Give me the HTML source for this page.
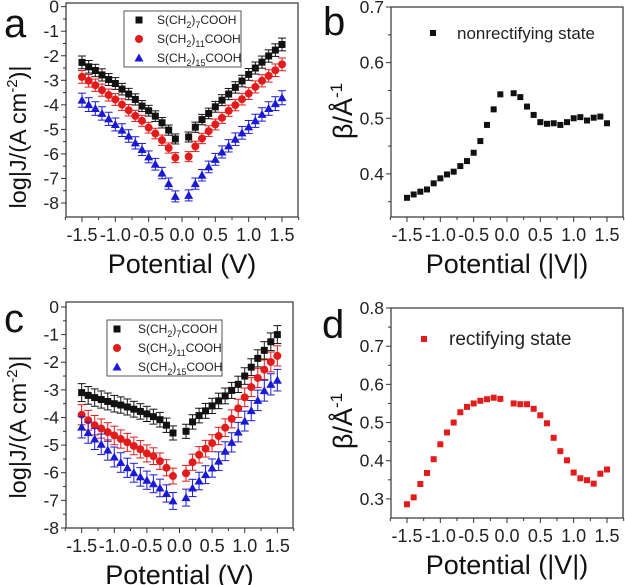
<!DOCTYPE html>
<html><head><meta charset="utf-8"><style>
body{margin:0;background:#fff}
svg{display:block;font-family:"Liberation Sans",sans-serif}
</style></head><body>
<svg id="fig" width="625" height="585" viewBox="0 0 625 585" xmlns="http://www.w3.org/2000/svg"></svg>
<script>
const xNeg=[-1.5,-1.4,-1.3,-1.2,-1.1,-1.0,-0.9,-0.8,-0.7,-0.6,-0.5,-0.4,-0.3,-0.2,-0.1];
const xPos=[0.1,0.2,0.3,0.4,0.5,0.6,0.7,0.8,0.9,1.0,1.1,1.2,1.3,1.4,1.5];
const potentials=xNeg.concat(xPos);
const xTickLabels=["-1.5","-1.0","-0.5","0.0","0.5","1.0","1.5"];
const xTickValues=[-1.5,-1.0,-0.5,0,0.5,1.0,1.5];
const jTickValues=[0,-1,-2,-3,-4,-5,-6,-7,-8];
const jTickLabels=["0","-1","-2","-3","-4","-5","-6","-7","-8"];
const bTickValues=[0.4,0.5,0.6,0.7];
const bTickLabels=["0.4","0.5","0.6","0.7"];
const dTickValues=[0.3,0.4,0.5,0.6,0.7,0.8];
const dTickLabels=["0.3","0.4","0.5","0.6","0.7","0.8"];
const seriesNames=["S(CH2)7COOH","S(CH2)11COOH","S(CH2)15COOH"];
// panel a
const aC7=[-2.27,-2.45,-2.6,-2.78,-2.97,-3.13,-3.36,-3.56,-3.78,-4.05,-4.24,-4.46,-4.73,-5.03,-5.39,-5.31,-4.91,-4.6,-4.35,-4.08,-3.81,-3.56,-3.29,-3.03,-2.76,-2.5,-2.26,-2.01,-1.77,-1.54];
const aC11=[-2.86,-3.02,-3.2,-3.4,-3.6,-3.78,-3.99,-4.22,-4.45,-4.65,-4.93,-5.17,-5.44,-5.76,-6.15,-6.11,-5.69,-5.37,-5.07,-4.8,-4.53,-4.24,-4.01,-3.77,-3.54,-3.27,-3.02,-2.82,-2.59,-2.35];
const aC15=[-3.81,-3.99,-4.15,-4.35,-4.57,-4.8,-5.03,-5.27,-5.55,-5.82,-6.12,-6.42,-6.78,-7.21,-7.73,-7.69,-7.21,-6.87,-6.53,-6.22,-5.92,-5.67,-5.4,-5.14,-4.9,-4.65,-4.39,-4.15,-3.95,-3.71];
const aErr=[0.2,0.2,0.22];
// panel c
const cC7=[-3.1,-3.2,-3.28,-3.35,-3.42,-3.5,-3.55,-3.62,-3.7,-3.78,-3.87,-3.97,-4.08,-4.28,-4.56,-4.5,-4.16,-3.93,-3.76,-3.58,-3.4,-3.22,-3.02,-2.8,-2.5,-2.18,-1.86,-1.57,-1.26,-1.0];
const cC11=[-3.9,-4.1,-4.28,-4.4,-4.53,-4.65,-4.78,-4.9,-5.03,-5.15,-5.3,-5.4,-5.58,-5.82,-6.12,-6.02,-5.62,-5.35,-5.13,-4.93,-4.67,-4.37,-4.05,-3.67,-3.27,-2.9,-2.57,-2.27,-1.99,-1.77];
const cC15=[-4.35,-4.55,-4.78,-4.97,-5.18,-5.43,-5.63,-5.82,-6.0,-6.15,-6.27,-6.4,-6.55,-6.75,-7.02,-6.9,-6.55,-6.3,-6.07,-5.83,-5.58,-5.22,-4.9,-4.53,-4.13,-3.75,-3.38,-3.03,-2.8,-2.65];
const cErr=[0.25,0.28,0.3];
// panel b, d
const betaNonrect=[0.357,0.363,0.368,0.372,0.383,0.392,0.399,0.404,0.414,0.423,0.438,0.459,0.488,0.516,0.543,0.545,0.538,0.521,0.506,0.493,0.49,0.491,0.488,0.493,0.5,0.502,0.496,0.501,0.503,0.491];
const betaRect=[0.286,0.304,0.339,0.368,0.404,0.443,0.474,0.5,0.527,0.541,0.55,0.557,0.561,0.565,0.562,0.55,0.548,0.548,0.536,0.519,0.498,0.46,0.425,0.401,0.369,0.354,0.349,0.34,0.366,0.377];

const NS="http://www.w3.org/2000/svg";
const svg=document.getElementById('fig');
function el(tag,attrs,parent,text){const e=document.createElementNS(NS,tag);for(const k in attrs)e.setAttribute(k,attrs[k]);if(text!==undefined)e.textContent=text;(parent||svg).appendChild(e);return e;}

function makeAxes(p){
  const g=el('g',{});
  
  
  const sx=v=>p.x0+(v-p.xmin)*(p.x1-p.x0)/(p.xmax-p.xmin);
  const sy=v=>p.y0-(v-p.ymin)*(p.y0-p.y1)/(p.ymax-p.ymin);
  const frame=el('rect',{x:p.x0,y:p.y1,width:p.x1-p.x0,height:p.y0-p.y1,fill:'none',stroke:'#333','stroke-width':1.2},g);
  
  
  for(let v=-1.75;v<=1.751;v+=0.25){
    const major=Math.abs(v*2-Math.round(v*2))<1e-6;
    el('line',{x1:sx(v),x2:sx(v),y1:p.y0,y2:p.y0+(major?5:3),stroke:'#333','stroke-width':1},g);
  }
  xTickValues.forEach((v,i)=>{
    const t=el('text',{x:sx(v),y:p.y0+24,'text-anchor':'middle','font-size':18,fill:'#222'},g,xTickLabels[i]);
    
    
  });
  p.yticks.forEach((v,i)=>{
    el('line',{x1:p.x0,x2:p.x0-5,y1:sy(v),y2:sy(v),stroke:'#333','stroke-width':1},g);
    const t=el('text',{x:p.x0-7,y:sy(v)+6,'text-anchor':'end','font-size':17.5,fill:'#222'},g,p.ylabels[i]);
    
    
  });
  if(p.yminor){p.yminor.forEach(v=>{if(sy(v)<=p.y0&&sy(v)>=p.y1)el('line',{x1:p.x0,x2:p.x0-3,y1:sy(v),y2:sy(v),stroke:'#333','stroke-width':1},g);});}
  const xt=el('text',{x:(p.x0+p.x1)/2,y:p.y0+56,'text-anchor':'middle','font-size':27,fill:'#111'},g,p.xtitle);
  
  
  const lt=el('text',{x:p.lx,y:p.ly,'font-size':40,fill:'#111'},g,p.letter);
  
  
  return {g,sx,sy};
}
function marker(g,shape,cx,cy,color,s){
  let m;
  if(shape==='sq')m=el('rect',{x:cx-s/2,y:cy-s/2,width:s,height:s,fill:color},g);
  else if(shape==='ci')m=el('circle',{cx:cx,cy:cy,r:s/2+0.5,fill:color},g);
  else m=el('polygon',{points:`${cx},${cy-s/2-1} ${cx-s/2-1},${cy+s/2} ${cx+s/2+1},${cy+s/2}`,fill:color},g);
  
  
  return m;
}
const shapes=['sq','ci','tr'];const colors=['#111','#e31b1b','#1a1ad6'];

function jPanel(name,letter,series,errs,geom,leg){
  const ax=makeAxes(Object.assign({name,letter,xmin:-1.74,xmax:1.74,xtitle:'Potential (V)',yticks:jTickValues,ylabels:jTickLabels,yminor:[-0.5,-1.5,-2.5,-3.5,-4.5,-5.5,-6.5,-7.5]},geom));
  const yt=el('text',{transform:`translate(${geom.ytx},${geom.yty}) rotate(-90)`,'text-anchor':'middle','font-size':23.5,fill:'#111'},ax.g);
  
  
  yt.innerHTML='log|J/(A cm<tspan dy="-9" font-size="15">-2</tspan><tspan dy="9">)|</tspan>';
  series.forEach((arr,si)=>{
    const sg=el('g',{},ax.g);
    
    
    arr.forEach((v,i)=>{
      const cx=ax.sx(potentials[i]),cy=ax.sy(v);
      const e=errs[si]*(1+Math.abs(potentials[i])*0.2);
      const ya=ax.sy(v+e),yb=ax.sy(v-e);
      el('line',{x1:cx,x2:cx,y1:ya,y2:yb,stroke:colors[si],'stroke-width':1},sg);
      el('line',{x1:cx-4,x2:cx+4,y1:ya,y2:ya,stroke:colors[si],'stroke-width':1},sg);
      el('line',{x1:cx-4,x2:cx+4,y1:yb,y2:yb,stroke:colors[si],'stroke-width':1},sg);
      marker(sg,shapes[si],cx,cy,colors[si],7);
    });
  });
  const lg=el('g',{},ax.g);
  
  
  el('rect',{x:leg.x,y:leg.y,width:leg.w,height:leg.h,fill:'#fff',stroke:'#555','stroke-width':1},lg);
  const subs=['7','11','15'];
  subs.forEach((s,i)=>{
    const yy=leg.y+9+i*19;
    marker(lg,shapes[i],leg.mx,yy,colors[i],7);
    const t=el('text',{x:leg.tx,y:yy+4,'font-size':12,fill:'#222'},lg);
    
    
    t.innerHTML=`S(CH<tspan dy="4" font-size="9">2</tspan><tspan dy="-4">)</tspan><tspan dy="4" font-size="9">${s}</tspan><tspan dy="-4">COOH</tspan>`;
  });
}
function bPanel(name,letter,vals,color,geom,ticks,labels,minor,legText,leg){
  const ax=makeAxes(Object.assign({name,letter,xmin:-1.74,xmax:1.74,xtitle:'Potential (|V|)',yticks:ticks,ylabels:labels,yminor:minor},geom));
  const yt=el('text',{transform:`translate(${geom.ytx},${geom.yty}) rotate(-90)`,'text-anchor':'middle','font-size':27,fill:'#111'},ax.g);
  
  
  yt.innerHTML='β/Å<tspan dy="-10" font-size="17">-1</tspan>';
  const sg=el('g',{},ax.g);
  
  
  vals.forEach((v,i)=>marker(sg,'sq',ax.sx(potentials[i]),ax.sy(v),color,6));
  const lg=el('g',{},ax.g);
  
  
  marker(lg,'sq',leg.mx,leg.y,color,6);
  const t=el('text',{x:leg.tx,y:leg.y+6,'font-size':leg.fs,fill:'#222'},lg,legText);
  
  
}

jPanel('panel-a','a',[aC7,aC11,aC15],aErr,{x0:66,x1:298,y0:217,y1:3,ymin:-8.57,ymax:0.15,lx:4,ly:37,ytx:26,yty:137},{x:124,y:11,w:117,h:56,mx:139,tx:157});
jPanel('panel-c','c',[cC7,cC11,cC15],cErr,{x0:66,x1:293,y0:528,y1:302,ymin:-8,ymax:0.18,lx:4,ly:332,ytx:26,yty:427},{x:107,y:320,w:115,h:56,mx:117,tx:138});
bPanel('panel-b','b',betaNonrect,'#111',{x0:391,x1:623,y0:217,y1:7,ymin:0.3225,ymax:0.7,lx:323,ly:35,ytx:352,yty:111},bTickValues,bTickLabels,[0.35,0.45,0.55,0.65],'nonrectifying state',{mx:433,tx:457,y:33,fs:17});
bPanel('panel-d','d',betaRect,'#e31b1b',{x0:391,x1:623,y0:518,y1:308,ymin:0.25,ymax:0.8,lx:322,ly:338,ytx:352,yty:421},dTickValues,dTickLabels,[0.35,0.45,0.55,0.65,0.75],'rectifying state',{mx:424,tx:449,y:339,fs:19});
</script>
</body></html>
